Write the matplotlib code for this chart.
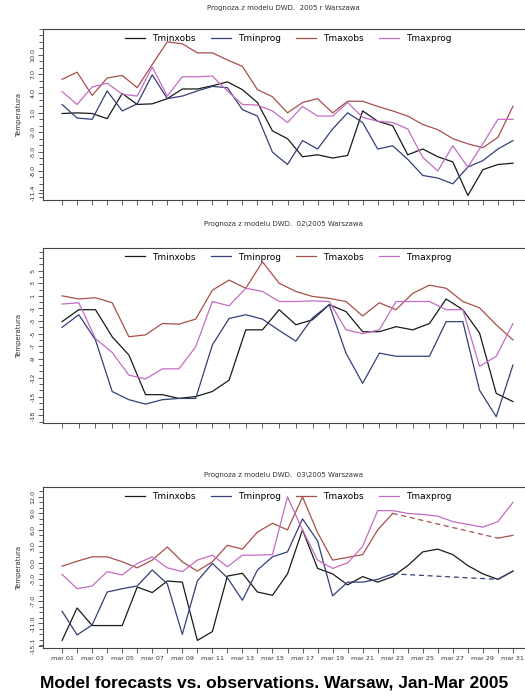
import numpy as np
import matplotlib
matplotlib.use("Agg")
import matplotlib.pyplot as plt
from matplotlib.ticker import MultipleLocator, FixedLocator

# Data (daily temperatures, deg C)
names = ["Tminxobs", "Tminprog", "Tmaxobs", "Tmaxprog"]
colors = ["#1a1a1a", "#33407a", "#a8504a", "#c46cc4"]

jan_tminxobs = [0.9, 1.0, 0.9, 0.1, 4.0, 2.3, 2.4, 3.2, 4.7, 4.7, 5.2, 5.8, 4.6, 2.6, -1.8, -3.0,
                -5.8, -5.5, -6.0, -5.6, 1.3, -0.3, -1.0, -5.5, -4.6, -5.8, -6.6, -11.8, -7.8, -7.0, -6.8]
jan_tminprog = [2.3, 0.2, 0.0, 4.4, 1.3, 2.4, 6.9, 3.2, 3.6, 4.4, 5.1, 4.9, 1.5, 0.5, -5.1, -7.0,
                -3.3, -4.6, -1.5, 1.0, -0.5, -4.6, -4.1, -6.2, -8.7, -9.1, -10.0, -7.4, -6.4, -4.6, -3.3]
jan_tmaxobs = [6.2, 7.3, 3.7, 6.4, 6.8, 4.9, 8.5, 12.0, 11.7, 10.3, 10.3, 9.2, 8.2, 4.6, 3.5, 1.0,
               2.6, 3.2, 1.0, 2.8, 2.8, 2.0, 1.3, 0.5, -0.8, -1.6, -3.0, -3.8, -4.4, -2.8, 2.0]
jan_tmaxprog = [4.3, 2.3, 5.0, 5.6, 3.9, 3.6, 8.1, 3.6, 6.6, 6.6, 6.7, 4.4, 2.3, 2.2, 1.3, -0.5,
                2.0, 0.5, 0.5, 2.6, 0.3, -0.3, -0.5, -1.5, -5.9, -8.0, -4.1, -7.4, -3.8, 0.0, 0.0]

feb_tminxobs = [-3.1, -1.2, -1.2, -5.5, -8.4, -14.7, -14.7, -15.3, -15.0, -14.2, -12.4, -4.4, -4.4, -1.2,
                -3.6, -2.8, -0.4, -1.5, -4.7, -4.7, -3.9, -4.4, -3.4, 0.5, -1.2, -4.9, -14.5, -15.8]
feb_tminprog = [-4.0, -2.0, -6.0, -14.2, -15.5, -16.2, -15.5, -15.3, -15.3, -6.8, -2.6, -2.0, -2.7, -4.5,
                -6.2, -2.5, -0.4, -8.1, -12.9, -8.1, -8.6, -8.6, -8.6, -3.1, -3.1, -14.0, -18.2, -10.0]
feb_tmaxobs = [1.0, 0.5, 0.7, -0.1, -5.5, -5.2, -3.4, -3.5, -2.7, 1.9, 3.5, 2.2, 6.4, 3.0,
               1.7, 0.9, 0.6, 0.1, -2.2, -0.1, -1.2, 1.4, 2.7, 2.2, 0.1, -0.9, -3.6, -6.0]
feb_tmaxprog = [-0.3, -0.1, -5.8, -8.0, -11.6, -12.2, -10.6, -10.6, -7.1, 0.1, -0.6, 2.2, 1.7, 0.1,
                0.1, 0.2, 0.1, -4.4, -5.0, -4.4, 0.1, 0.1, 0.1, -1.2, -1.2, -10.2, -8.6, -3.4]

nan = np.nan
mar_tminxobs = [-14.1, -8.2, -11.4, -11.4, -11.4, -4.4, -5.4, -3.3, -3.5, -14.1, -12.5, -2.4, -1.9, -5.3,
                -5.9, -2.0, 6.0, -1.0, -2.0, -4.0, -2.5, -3.5, -2.5, -0.5, 2.0, 2.5, 1.5, -0.5, -2.0, -3.0, -1.5]
mar_tminprog = [-8.8, -13.1, -11.3, -5.3, -4.7, -4.2, -1.3, -3.8, -13.0, -3.3, -0.1, -2.7, -6.8, -1.3,
                1.1, 2.0, 8.0, 4.0, -6.0, -3.5, -3.5, -3.0, -2.0, nan, nan, nan, nan, nan, nan, -3.0, -1.5]
mar_tmaxobs = [-0.6, 0.3, 1.1, 1.1, 0.2, -0.9, 0.5, 2.9, 0.2, -1.5, 0.2, 3.2, 2.5, 5.6,
               7.2, 6.0, 12.0, 5.5, 0.5, 1.0, 1.5, 6.0, 9.0, nan, nan, nan, nan, nan, nan, 4.5, 5.0]
mar_tmaxprog = [-2.1, -4.7, -4.2, -1.6, -2.2, -0.1, 1.1, -0.9, -1.6, 0.5, 1.4, -0.7, 1.4, 1.4,
                1.5, 12.0, 6.0, 0.5, -1.0, 0.0, 3.0, 9.5, 9.5, 9.0, 8.8, 8.5, 7.5, 7.0, 6.5, 7.5, 11.0]

titles = ["Prognoza z modelu DWD.  2005 r Warszawa",
          "Prognoza z modelu DWD.  02\\2005 Warszawa",
          "Prognoza z modelu DWD.  03\\2005 Warszawa"]

jan_ticks = [10.0, 7.0, 4.0, 1.0, -2.0, -5.0, -8.0, -11.4]
jan_labels = ["10.0", "7.0", "4.0", "1.0", "-2.0", "-5.0", "-8.0", "-11.4"]
feb_ticks = [5, 3, 1, -1, -3, -5, -7, -9, -12, -15, -18]
feb_labels = [str(t) for t in feb_ticks]
mar_ticks = [12.0, 9.0, 6.0, 3.0, 0.0, -3.0, -7.0, -11.0, -15.1]
mar_labels = ["12.0", "9.0", "6.0", "3.0", "0.0", "-3.0", "-7.0", "-11.0", "-15.1"]

panels = [
    (titles[0], [jan_tminxobs, jan_tminprog, jan_tmaxobs, jan_tmaxprog], jan_ticks, jan_labels, (-12.5, 14.0)),
    (titles[1], [feb_tminxobs, feb_tminprog, feb_tmaxobs, feb_tmaxprog], feb_ticks, feb_labels, (-19.2, 8.6)),
    (titles[2], [mar_tminxobs, mar_tminprog, mar_tmaxobs, mar_tmaxprog], mar_ticks, mar_labels, (-15.5, 13.8)),
]

# axes boxes in figure fractions (left, bottom, width, height)
boxes = [(0.082, 0.7135, 0.916, 0.245),
         (0.082, 0.394, 0.916, 0.2507),
         (0.082, 0.0715, 0.916, 0.2308)]
title_y = [0.989, 0.679, 0.32]

fig = plt.figure(figsize=(5.25, 6.98), dpi=100)
fig.patch.set_facecolor("white")

for i, (title, series, ticks, labels, ylim) in enumerate(panels):
    ax = fig.add_axes(boxes[i])
    n = len(series[0])
    days = np.arange(1, n + 1)
    step = 450 / (n - 1)  # pixels per day
    ax.set_xlim(1 - 19 / step, n + 11 / step)
    ax.set_ylim(*ylim)

    for name, vals, col in zip(names, series, colors):
        y = np.array(vals, dtype=float)
        ax.plot(days, y, color=col, lw=0.9, label=name)
        # missing days are bridged with a dashed line
        idx = np.where(~np.isnan(y))[0]
        for a, b in zip(idx[:-1], idx[1:]):
            if b - a > 1:
                ax.plot([days[a], days[b]], [y[a], y[b]], color=col, lw=0.9, ls=(0, (4, 3)))

    ax.legend(loc="upper center", bbox_to_anchor=(0.51, 1.02), ncol=4, frameon=False,
              fontsize=6.5, handlelength=2.2, columnspacing=1.7, handletextpad=0.8)

    ax.yaxis.set_major_locator(FixedLocator(ticks))
    ax.set_yticklabels(labels, rotation=90, va="center", fontsize=4.6, color="#333333")
    ax.yaxis.set_minor_locator(MultipleLocator(1))
    ax.set_xticks(days)
    if i == 2:
        ax.set_xticklabels([("mar %02d" % d) if d % 2 == 1 else "" for d in days],
                           fontsize=4.6, color="#333333")
    else:
        ax.set_xticklabels([])
    ax.tick_params(axis="both", which="both", direction="out", length=3.5, width=0.6,
                   color="#444444", pad=2)
    ax.tick_params(axis="y", which="minor", length=3.0)

    for s in ["top", "left", "bottom"]:
        ax.spines[s].set_color("#444444")
        ax.spines[s].set_linewidth(0.8)
    ax.spines["right"].set_visible(False)

    ax.set_ylabel("Temperatura", fontsize=5, color="#333333", labelpad=6)
    fig.text(0.54, title_y[i], title, ha="center", va="center", fontsize=5, color="#333333")

fig.text(0.523, 0.022, "Model forecasts vs. observations. Warsaw, Jan-Mar 2005",
         ha="center", va="center", fontsize=12.5, fontweight="bold",
         family=["Liberation Sans", "DejaVu Sans"], color="black")

fig.savefig("out.png", dpi=100, facecolor="white")
